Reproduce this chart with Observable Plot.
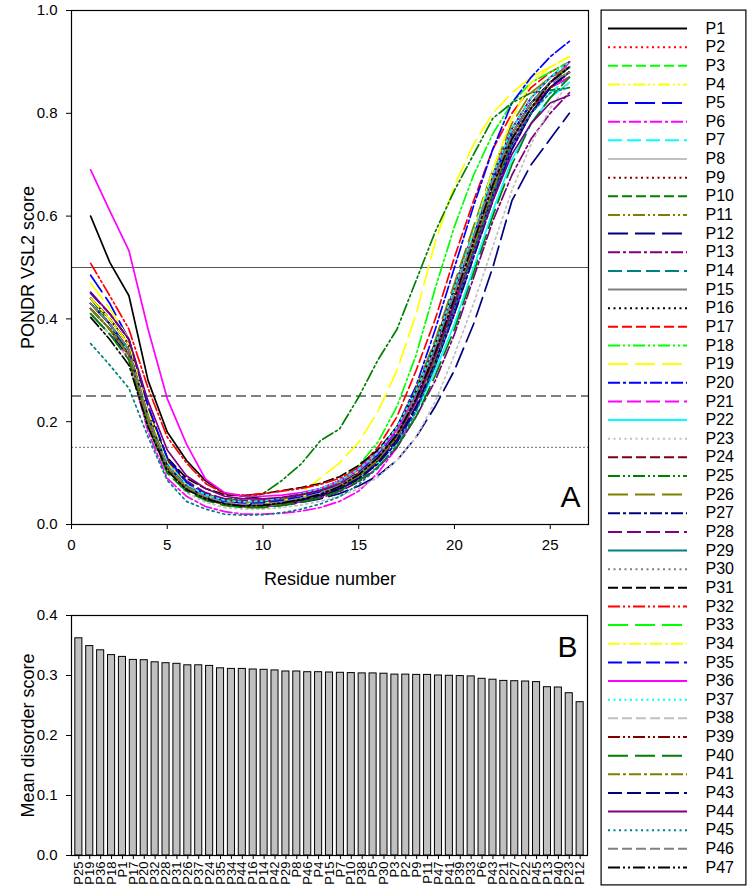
<!DOCTYPE html>
<html><head><meta charset="utf-8">
<script src="https://cdn.jsdelivr.net/npm/d3@7"></script>
<script src="https://cdn.jsdelivr.net/npm/@observablehq/plot@0.6"></script>
<style>
body{margin:0;background:#fff;font-family:"Liberation Sans",Arial,sans-serif;}
#wrap{position:relative;width:750px;height:889px;overflow:hidden;}
#a{position:absolute;left:0;top:0;}
#b{position:absolute;left:0;top:600px;}
#leg{position:absolute;left:600px;top:9px;}
</style></head><body><div id="wrap"><div id="a"></div><div id="b"></div><div id="leg"></div></div>
<script>
// ---------- data ----------
const residues = [1,2,3,4,5,6,7,8,9,10,11,12,13,14,15,16,17,18,19,20,21,22,23,24,25,26];
const xTicksA = [0,5,10,15,20,25];
const yTicksA = [0,0.2,0.4,0.6,0.8,1.0];
const yTicksB = [0,0.1,0.2,0.3,0.4];
const cutoffSolid = [0.5];
const cutoffDashed = [0.25];
const cutoffDotted = [0.15];
const titleXA = ["Residue number"];
const titleYA = ["PONDR VSL2 score"];
const titleYB = ["Mean disorder score"];

const P1  = [0.60,0.51,0.445,0.28,0.18, 0.125,0.085,0.06,0.055,0.05, 0.05,0.055,0.065,0.08,0.11, 0.14,0.19,0.26,0.35,0.46, 0.57,0.67,0.76,0.82,0.86,0.89];
const P2  = [0.42,0.38,0.33,0.20,0.11, 0.07,0.05,0.038,0.034,0.035, 0.04,0.046,0.056,0.07,0.095, 0.13,0.17,0.24,0.32,0.43, 0.55,0.66,0.75,0.81,0.86,0.89];
const P3  = [0.41,0.37,0.33,0.19,0.105, 0.068,0.05,0.04,0.035,0.035, 0.04,0.046,0.055,0.07,0.095, 0.125,0.17,0.24,0.33,0.44, 0.55,0.66,0.75,0.81,0.85,0.88];
const P4  = [0.44,0.40,0.35,0.21,0.115, 0.075,0.055,0.042,0.037,0.037, 0.042,0.05,0.06,0.075,0.10, 0.135,0.18,0.25,0.34,0.45, 0.56,0.67,0.76,0.82,0.86,0.89];
const P5  = [0.485,0.43,0.36,0.22,0.12, 0.075,0.053,0.04,0.035,0.034, 0.038,0.045,0.055,0.07,0.092, 0.125,0.17,0.24,0.32,0.42, 0.53,0.64,0.73,0.80,0.85,0.88];
const P6  = [0.42,0.38,0.32,0.18,0.09, 0.055,0.035,0.025,0.02,0.02, 0.022,0.026,0.033,0.045,0.065, 0.10,0.15,0.22,0.31,0.42, 0.54,0.65,0.74,0.81,0.86,0.90];
const P7  = [0.43,0.39,0.34,0.21,0.115, 0.075,0.055,0.045,0.042,0.044, 0.05,0.058,0.068,0.082,0.105, 0.135,0.18,0.25,0.33,0.43, 0.54,0.65,0.74,0.80,0.84,0.87];
const P8  = [0.43,0.39,0.34,0.21,0.115, 0.075,0.055,0.043,0.04,0.04, 0.045,0.052,0.062,0.078,0.10, 0.135,0.18,0.25,0.34,0.44, 0.55,0.66,0.75,0.81,0.85,0.88];
const P9  = [0.42,0.38,0.33,0.20,0.11, 0.07,0.05,0.04,0.035,0.035, 0.04,0.047,0.056,0.07,0.093, 0.125,0.17,0.24,0.32,0.43, 0.54,0.65,0.74,0.80,0.85,0.87];
const P10 = [0.42,0.38,0.34,0.21,0.115, 0.073,0.052,0.04,0.036,0.036, 0.04,0.047,0.057,0.072,0.095, 0.128,0.175,0.245,0.33,0.44, 0.55,0.66,0.75,0.81,0.85,0.87];
const P11 = [0.42,0.38,0.33,0.20,0.11, 0.07,0.05,0.038,0.034,0.034, 0.038,0.045,0.055,0.07,0.093, 0.126,0.17,0.24,0.32,0.43, 0.54,0.65,0.75,0.81,0.85,0.88];
const P12 = [0.41,0.37,0.33,0.20,0.11, 0.07,0.05,0.038,0.034,0.034, 0.037,0.043,0.05,0.06,0.075, 0.095,0.125,0.17,0.23,0.30, 0.39,0.50,0.63,0.70,0.75,0.80];
const P13 = [0.43,0.39,0.34,0.20,0.11, 0.07,0.05,0.04,0.035,0.035, 0.038,0.044,0.052,0.064,0.083, 0.11,0.15,0.21,0.28,0.37, 0.48,0.59,0.68,0.75,0.80,0.84];
const P14 = [0.43,0.39,0.34,0.21,0.115, 0.075,0.055,0.044,0.04,0.04, 0.045,0.052,0.062,0.078,0.10, 0.135,0.18,0.255,0.345,0.45, 0.56,0.67,0.76,0.82,0.86,0.89];
const P15 = [0.43,0.39,0.34,0.21,0.115, 0.074,0.054,0.042,0.038,0.038, 0.043,0.05,0.06,0.075,0.098, 0.13,0.175,0.245,0.335,0.44, 0.55,0.66,0.75,0.81,0.86,0.89];
const P16 = [0.44,0.40,0.35,0.22,0.12, 0.078,0.056,0.044,0.04,0.04, 0.045,0.052,0.062,0.078,0.10, 0.135,0.18,0.25,0.34,0.45, 0.56,0.67,0.76,0.82,0.86,0.89];
const P17 = [0.44,0.40,0.35,0.22,0.125, 0.08,0.06,0.048,0.045,0.047, 0.052,0.06,0.07,0.085,0.11, 0.15,0.21,0.30,0.40,0.52, 0.63,0.73,0.80,0.85,0.88,0.90];
const P18 = [0.42,0.38,0.33,0.20,0.11, 0.072,0.052,0.042,0.04,0.042, 0.048,0.056,0.068,0.085,0.115, 0.16,0.23,0.33,0.46,0.58, 0.68,0.76,0.82,0.86,0.88,0.90];
const P19 = [0.47,0.42,0.36,0.22,0.12, 0.078,0.057,0.045,0.042,0.045, 0.052,0.062,0.09,0.12,0.16, 0.22,0.30,0.41,0.55,0.66, 0.74,0.80,0.84,0.87,0.89,0.91];
const P20 = [0.43,0.39,0.34,0.21,0.115, 0.075,0.055,0.045,0.042,0.044, 0.05,0.058,0.068,0.083,0.107, 0.14,0.19,0.27,0.38,0.50, 0.62,0.73,0.82,0.87,0.91,0.94];
const P21 = [0.42,0.38,0.33,0.20,0.11, 0.07,0.05,0.039,0.035,0.035, 0.039,0.045,0.054,0.068,0.09, 0.12,0.165,0.23,0.31,0.41, 0.52,0.63,0.73,0.80,0.85,0.90];
const P22 = [0.43,0.39,0.33,0.20,0.11, 0.072,0.052,0.042,0.04,0.041, 0.045,0.052,0.06,0.073,0.092, 0.12,0.16,0.22,0.30,0.39, 0.50,0.61,0.71,0.78,0.83,0.86];
const P23 = [0.41,0.37,0.32,0.19,0.10, 0.062,0.043,0.033,0.03,0.03, 0.033,0.038,0.045,0.055,0.07, 0.092,0.125,0.17,0.24,0.33, 0.43,0.54,0.65,0.74,0.81,0.86];
const P24 = [0.44,0.40,0.35,0.22,0.125, 0.08,0.058,0.046,0.043,0.045, 0.05,0.058,0.068,0.083,0.107, 0.14,0.19,0.26,0.355,0.46, 0.57,0.68,0.77,0.83,0.87,0.89];
const P25 = [0.44,0.39,0.34,0.21,0.115, 0.075,0.058,0.05,0.05,0.06, 0.086,0.118,0.163,0.186,0.248, 0.32,0.38,0.475,0.57,0.65, 0.72,0.79,0.82,0.84,0.845,0.85];
const P26 = [0.43,0.39,0.34,0.21,0.12, 0.078,0.057,0.045,0.042,0.043, 0.048,0.056,0.066,0.082,0.106, 0.14,0.19,0.265,0.36,0.47, 0.58,0.69,0.78,0.84,0.87,0.89];
const P27 = [0.43,0.39,0.33,0.20,0.11, 0.07,0.05,0.04,0.036,0.036, 0.04,0.046,0.055,0.068,0.088, 0.118,0.16,0.225,0.31,0.41, 0.52,0.63,0.73,0.80,0.85,0.88];
const P28 = [0.45,0.41,0.36,0.23,0.13, 0.085,0.062,0.05,0.046,0.047, 0.052,0.06,0.07,0.085,0.108, 0.14,0.19,0.26,0.35,0.46, 0.57,0.68,0.77,0.83,0.87,0.90];
const P29 = [0.43,0.39,0.34,0.21,0.115, 0.075,0.055,0.043,0.04,0.04, 0.045,0.052,0.062,0.077,0.10, 0.133,0.18,0.25,0.34,0.45, 0.56,0.67,0.76,0.82,0.86,0.88];
const P30 = [0.42,0.38,0.33,0.20,0.11, 0.072,0.052,0.041,0.037,0.037, 0.042,0.049,0.059,0.074,0.097, 0.13,0.175,0.245,0.335,0.44, 0.55,0.66,0.75,0.81,0.86,0.89];
const P31 = [0.44,0.40,0.35,0.22,0.13, 0.09,0.07,0.058,0.056,0.06, 0.066,0.072,0.08,0.093,0.115, 0.145,0.19,0.26,0.35,0.45, 0.56,0.67,0.76,0.82,0.86,0.88];
const P32 = [0.508,0.445,0.38,0.265,0.17, 0.12,0.08,0.06,0.057,0.06, 0.065,0.07,0.078,0.09,0.11, 0.14,0.185,0.25,0.34,0.44, 0.55,0.66,0.75,0.81,0.85,0.87];
const P33 = [0.42,0.38,0.33,0.20,0.11, 0.07,0.05,0.039,0.035,0.035, 0.04,0.047,0.057,0.072,0.095, 0.127,0.172,0.24,0.33,0.43, 0.54,0.65,0.75,0.81,0.86,0.89];
const P34 = [0.44,0.40,0.35,0.22,0.12, 0.077,0.056,0.044,0.04,0.041, 0.046,0.054,0.064,0.08,0.103, 0.135,0.18,0.25,0.34,0.45, 0.57,0.69,0.79,0.86,0.89,0.91];
const P35 = [0.45,0.41,0.36,0.23,0.13, 0.082,0.058,0.045,0.041,0.042, 0.047,0.054,0.064,0.079,0.102, 0.135,0.18,0.25,0.34,0.45, 0.56,0.67,0.76,0.82,0.86,0.89];
const P36 = [0.69,0.61,0.533,0.38,0.245, 0.157,0.088,0.062,0.055,0.055, 0.057,0.062,0.07,0.085,0.108, 0.14,0.185,0.25,0.34,0.44, 0.55,0.66,0.75,0.81,0.85,0.87];
const P37 = [0.43,0.39,0.34,0.21,0.12, 0.078,0.058,0.047,0.044,0.046, 0.052,0.06,0.07,0.085,0.108, 0.14,0.19,0.26,0.35,0.46, 0.57,0.68,0.77,0.83,0.87,0.90];
const P38 = [0.42,0.38,0.33,0.20,0.11, 0.072,0.052,0.042,0.038,0.038, 0.043,0.05,0.06,0.075,0.098, 0.13,0.175,0.245,0.335,0.44, 0.55,0.66,0.75,0.81,0.86,0.88];
const P39 = [0.42,0.38,0.33,0.20,0.11, 0.07,0.051,0.04,0.036,0.036, 0.04,0.047,0.057,0.071,0.093, 0.125,0.17,0.24,0.33,0.43, 0.54,0.65,0.75,0.81,0.85,0.88];
const P40 = [0.41,0.37,0.32,0.19,0.10, 0.065,0.047,0.037,0.033,0.033, 0.037,0.043,0.052,0.065,0.085, 0.112,0.152,0.21,0.29,0.38, 0.49,0.60,0.70,0.78,0.83,0.87];
const P41 = [0.42,0.38,0.33,0.20,0.11, 0.071,0.051,0.04,0.036,0.036, 0.041,0.048,0.058,0.072,0.094, 0.126,0.17,0.24,0.33,0.43, 0.54,0.65,0.75,0.81,0.86,0.89];
const P43 = [0.43,0.39,0.34,0.21,0.115, 0.075,0.053,0.042,0.038,0.038, 0.042,0.048,0.057,0.07,0.09, 0.12,0.165,0.23,0.315,0.42, 0.53,0.64,0.74,0.80,0.85,0.88];
const P44 = [0.452,0.41,0.36,0.24,0.145, 0.095,0.07,0.055,0.05,0.05, 0.053,0.058,0.066,0.079,0.10, 0.13,0.175,0.24,0.33,0.43, 0.53,0.63,0.72,0.78,0.82,0.835];
const P45 = [0.352,0.31,0.265,0.17,0.086, 0.045,0.03,0.02,0.018,0.019, 0.023,0.03,0.04,0.054,0.078, 0.11,0.155,0.22,0.31,0.42, 0.53,0.64,0.74,0.80,0.84,0.85];
const P46 = [0.43,0.39,0.34,0.21,0.115, 0.074,0.054,0.043,0.039,0.039, 0.044,0.051,0.061,0.076,0.099, 0.132,0.178,0.25,0.34,0.45, 0.56,0.67,0.76,0.82,0.86,0.88];
const P47 = [0.403,0.36,0.31,0.19,0.105, 0.068,0.05,0.04,0.036,0.037, 0.042,0.049,0.059,0.074,0.097, 0.13,0.175,0.245,0.335,0.44, 0.55,0.66,0.75,0.81,0.86,0.89];

const seriesNames = ["P1","P2","P3","P4","P5","P6","P7","P8","P9","P10","P11","P12","P13","P14","P15","P16","P17","P18","P19","P20","P21","P22","P23","P24","P25","P26","P27","P28","P29","P30","P31","P32","P33","P34","P35","P36","P37","P38","P39","P40","P41","P43","P44","P45","P46","P47"];
const seriesValues = [P1,P2,P3,P4,P5,P6,P7,P8,P9,P10,P11,P12,P13,P14,P15,P16,P17,P18,P19,P20,P21,P22,P23,P24,P25,P26,P27,P28,P29,P30,P31,P32,P33,P34,P35,P36,P37,P38,P39,P40,P41,P43,P44,P45,P46,P47];

const barNames = ["P25","P19","P36","P18","P1","P17","P20","P32","P28","P31","P26","P37","P24","P35","P34","P44","P16","P14","P42","P29","P8","P46","P4","P15","P7","P10","P38","P5","P30","P3","P2","P9","P11","P47","P41","P39","P33","P6","P43","P21","P27","P22","P45","P13","P40","P23","P12"];
const barValues = [0.362,0.349,0.342,0.334,0.331,0.326,0.3255,0.322,0.3205,0.3195,0.317,0.317,0.316,0.312,0.311,0.311,0.310,0.3095,0.3085,0.3067,0.3067,0.3055,0.3055,0.305,0.3045,0.304,0.3035,0.3035,0.303,0.3015,0.3015,0.301,0.301,0.300,0.2995,0.299,0.2985,0.2945,0.293,0.291,0.2905,0.290,0.289,0.2805,0.280,0.2705,0.2555];

// ---------- styles ----------
const palette = ["#000000","#ff0000","#00ff00","#ffff00","#0000ff","#ff00ff","#00ffff","#c0c0c0","#800000","#008000","#808000","#000080","#800080","#008080","#808080"];
const dashes = [null,"2,3.5","10,4","12,3,2,3,2,3","20,7","12,3,3,3","14,5"];
const colorOf = i => palette[i % palette.length];
const dashOf = i => dashes[i % dashes.length];
const FONT = '"Liberation Sans", Arial, Helvetica, sans-serif';
const baseStyle = {fontFamily: FONT, fontSize: "15px", background: "transparent", overflow: "visible", maxWidth: "none", color: "#000"};

// ---------- panel A ----------
const lineMarks = seriesNames.map((n, i) => Plot.line(residues, {
  x: d => d, y: (d, j) => seriesValues[i][j],
  stroke: colorOf(i), strokeDasharray: dashOf(i) || undefined, strokeWidth: 1.7
}));

const chartA = Plot.plot({
  width: 600, height: 590,
  marginLeft: 71, marginRight: 12, marginTop: 10, marginBottom: 66,
  style: baseStyle,
  x: {domain: [0, 27]},
  y: {domain: [0, 1]},
  marks: [
    Plot.ruleY(cutoffSolid, {stroke: "#555", strokeWidth: 1.2}),
    Plot.ruleY(cutoffDashed, {stroke: "#000", strokeWidth: 1.2, strokeDasharray: "10,5"}),
    Plot.ruleY(cutoffDotted, {stroke: "#888", strokeWidth: 1.2, strokeDasharray: "2,2"}),
    ...lineMarks,
    Plot.frame({stroke: "#000", strokeWidth: 1.2}),
    Plot.axisX({ticks: xTicksA, tickSize: 5, tickPadding: 10, fontSize: 15, label: null}),
    Plot.axisY({ticks: yTicksA, tickSize: 5, tickPadding: 9, fontSize: 15, tickFormat: d3.format(".1f"), label: null}),
    Plot.text(titleXA, {text: d => d, frameAnchor: "bottom", textAnchor: "middle", lineAnchor: "middle", dy: 55, fontSize: 18}),
    Plot.text(titleYA, {text: d => d, frameAnchor: "left", textAnchor: "middle", lineAnchor: "middle", rotate: -90, dx: -43, fontSize: 18}),
    Plot.text(["A"], {text: d => d, frameAnchor: "bottom-right", textAnchor: "end", lineAnchor: "bottom", dx: -8, dy: -18, fontSize: 30})
  ]
});
document.getElementById("a").appendChild(chartA);

// ---------- panel B ----------
const chartB = Plot.plot({
  width: 600, height: 289,
  marginLeft: 71, marginRight: 13, marginTop: 15, marginBottom: 34,
  style: baseStyle,
  x: {type: "band", domain: barNames, padding: 0.35},
  y: {domain: [0, 0.4]},
  marks: [
    Plot.barY(barNames, {x: d => d, y: (d, i) => barValues[i], fill: "#c0c0c0", stroke: "#000", strokeWidth: 1}),
    Plot.frame({stroke: "#000", strokeWidth: 1.2}),
    Plot.axisX({tickRotate: -90, tickSize: 4, tickPadding: 2, fontSize: 13, label: null}),
    Plot.axisY({ticks: yTicksB, tickSize: 5, tickPadding: 9, fontSize: 15, tickFormat: d3.format(".1f"), label: null}),
    Plot.text(titleYB, {text: d => d, frameAnchor: "left", textAnchor: "middle", lineAnchor: "middle", rotate: -90, dx: -43, fontSize: 18}),
    Plot.text(["B"], {text: d => d, frameAnchor: "top-right", textAnchor: "end", lineAnchor: "top", dx: -10, dy: 20, fontSize: 30})
  ]
});
document.getElementById("b").appendChild(chartB);

// ---------- legend (row index on a linear y scale) ----------
const legend = Plot.plot({
  width: 146, height: 876, margin: 0,
  style: baseStyle,
  x: {axis: null, domain: [0, 1]},
  y: {type: "linear", domain: [0, seriesNames.length - 1], range: [19, 858], axis: null},
  marks: [
    Plot.frame({stroke: "#000", strokeWidth: 1.2, inset: 0.6}),
    ...seriesNames.map((n, i) => Plot.ruleY([n], {y: () => i, stroke: colorOf(i), strokeDasharray: dashOf(i) || undefined, strokeWidth: 2, insetLeft: 8, insetRight: 59})),
    Plot.text(seriesNames, {y: (d, i) => i, text: d => d, frameAnchor: "left", textAnchor: "start", dx: 105, fontSize: 16})
  ]
});
document.getElementById("leg").appendChild(legend);
</script>
</body></html>
